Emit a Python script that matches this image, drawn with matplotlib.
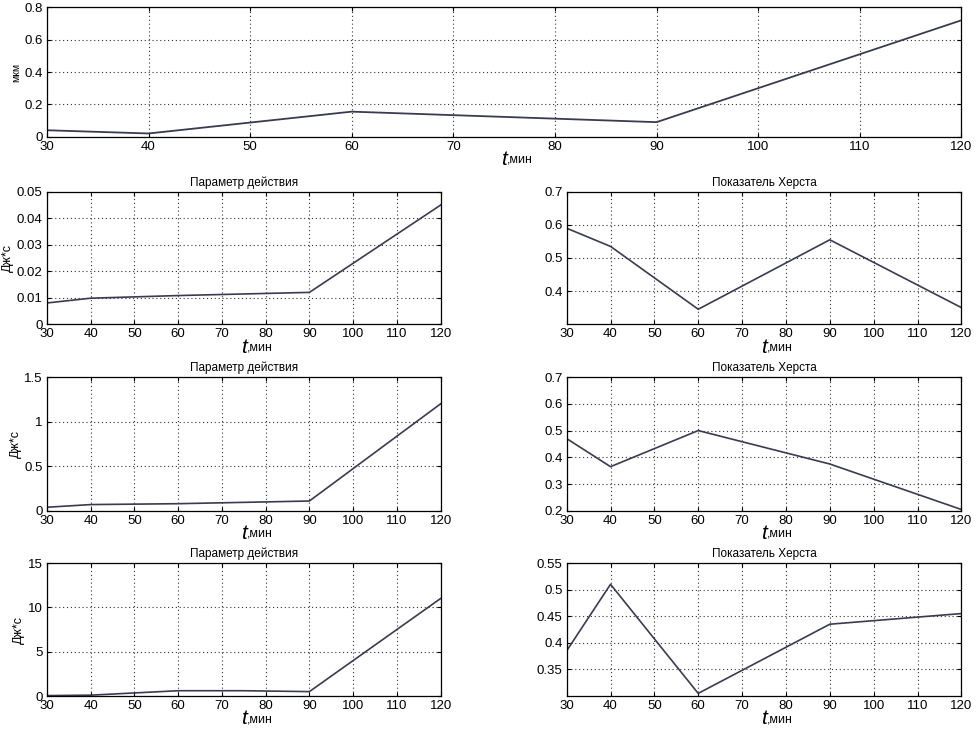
import matplotlib
matplotlib.use("Agg")
import matplotlib.pyplot as plt

# ---- data ----
t = [30, 40, 60, 90, 120]

disp_um = [0.04, 0.02, 0.155, 0.09, 0.72]

action_1 = [0.008, 0.0098, 0.0108, 0.012, 0.045]
hurst_1 = [0.59, 0.535, 0.345, 0.555, 0.35]

action_2 = [0.04, 0.07, 0.08, 0.11, 1.2]
hurst_2 = [0.47, 0.365, 0.50, 0.375, 0.205]

t_a3 = [30, 40, 60, 75, 90, 120]
action_3 = [0.05, 0.1, 0.6, 0.6, 0.5, 11.0]
hurst_3 = [0.385, 0.51, 0.305, 0.435, 0.455]

xticks = [30, 40, 50, 60, 70, 80, 90, 100, 110, 120]

TITLE_A = "Параметр действия"
TITLE_H = "Показатель Херста"
YLAB_A = "Дж*с"

LINE_C = "#3a3a52"

plt.rcParams["font.family"] = ["Liberation Sans", "DejaVu Sans"]

fig = plt.figure(figsize=(9.77, 7.35), dpi=100)


def style(ax, ylim, yticks, ytick_labels=None, title=None, ylabel=None, ylfs=9):
    ax.set_xlim(30, 120)
    ax.set_xticks(xticks)
    ax.set_ylim(*ylim)
    ax.set_yticks(yticks)
    if ytick_labels is not None:
        ax.set_yticklabels(ytick_labels)
    ax.grid(True, linestyle=(0, (1, 2.5)), color="#333333", linewidth=0.8)
    ax.tick_params(direction="in", top=True, right=True, length=3,
                   labelsize=9.5, pad=3)
    for s in ax.spines.values():
        s.set_linewidth(0.9)
    if title:
        ax.set_title(title, fontsize=8.5, pad=4)
    if ylabel:
        ax.set_ylabel(ylabel, fontsize=ylfs, labelpad=2)
    ax.set_xlabel("t", fontsize=15, style="italic", labelpad=-2)
    ax.annotate(",мин", xy=(1.0, 0.18), xycoords=ax.xaxis.label,
                ha="left", va="bottom", fontsize=9)


# top wide panel
ax0 = fig.add_axes([0.048, 0.814, 0.936, 0.176])
ax0.plot(t, disp_um, color=LINE_C, lw=1.3)
style(ax0, (0, 0.8), [0, 0.2, 0.4, 0.6, 0.8], ["0", "0.2", "0.4", "0.6", "0.8"],
      ylabel="мкм", ylfs=7.5)

L, W = 0.048, 0.403
R, WR = 0.580, 0.404
rows = [(0.559, 0.180), (0.305, 0.182), (0.053, 0.181)]

# row 1
ax = fig.add_axes([L, rows[0][0], W, rows[0][1]])
ax.plot(t, action_1, color=LINE_C, lw=1.2)
style(ax, (0, 0.05), [0, 0.01, 0.02, 0.03, 0.04, 0.05],
      ["0", "0.01", "0.02", "0.03", "0.04", "0.05"], title=TITLE_A, ylabel=YLAB_A)

ax = fig.add_axes([R, rows[0][0], WR, rows[0][1]])
ax.plot(t, hurst_1, color=LINE_C, lw=1.2)
style(ax, (0.3, 0.7), [0.4, 0.5, 0.6, 0.7], ["0.4", "0.5", "0.6", "0.7"], title=TITLE_H)

# row 2
ax = fig.add_axes([L, rows[1][0], W, rows[1][1]])
ax.plot(t, action_2, color=LINE_C, lw=1.2)
style(ax, (0, 1.5), [0, 0.5, 1, 1.5], ["0", "0.5", "1", "1.5"],
      title=TITLE_A, ylabel=YLAB_A)

ax = fig.add_axes([R, rows[1][0], WR, rows[1][1]])
ax.plot(t, hurst_2, color=LINE_C, lw=1.2)
style(ax, (0.2, 0.7), [0.2, 0.3, 0.4, 0.5, 0.6, 0.7],
      ["0.2", "0.3", "0.4", "0.5", "0.6", "0.7"], title=TITLE_H)

# row 3
ax = fig.add_axes([L, rows[2][0], W, rows[2][1]])
ax.plot(t_a3, action_3, color=LINE_C, lw=1.2)
style(ax, (0, 15), [0, 5, 10, 15], ["0", "5", "10", "15"],
      title=TITLE_A, ylabel=YLAB_A)

ax = fig.add_axes([R, rows[2][0], WR, rows[2][1]])
ax.plot(t, hurst_3, color=LINE_C, lw=1.2)
style(ax, (0.3, 0.55), [0.35, 0.4, 0.45, 0.5, 0.55],
      ["0.35", "0.4", "0.45", "0.5", "0.55"], title=TITLE_H)

fig.savefig("out.png", dpi=100)
